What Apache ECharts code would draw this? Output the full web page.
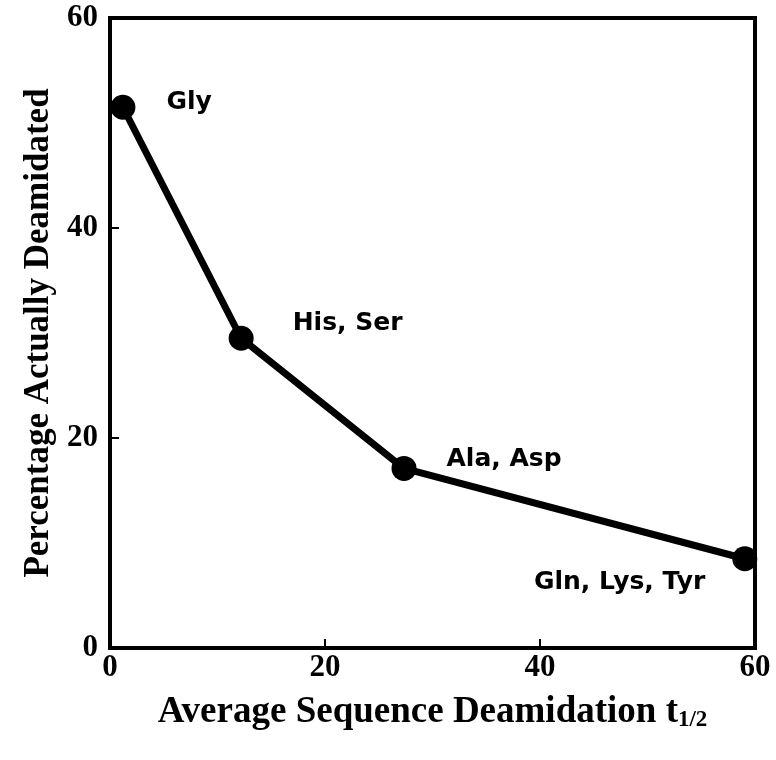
<!DOCTYPE html>
<html><head><meta charset="utf-8">
<script src="https://cdn.jsdelivr.net/npm/echarts@6/dist/echarts.min.js"></script>
<style>html,body{margin:0;padding:0;background:#fff}#c{width:776px;height:760px}</style>
</head><body><div id="c"></div>
<script>
const xValues = [1.2, 12.2, 27.35, 59.05];
const yValues = [51.5, 29.5, 17.1, 8.5];
const pointNames = ['Gly', 'His, Ser', 'Ala, Asp', 'Gln, Lys, Tyr'];
const xTicks = [0, 20, 40, 60];
const yTicks = [0, 20, 40, 60];

const labelCfg = [
  {position: 'right', distance: 5, offset: [26, -5]},
  {position: 'right', distance: 5, offset: [34, -15]},
  {position: 'right', distance: 5, offset: [25, -9]},
  {position: 'left', distance: 5, offset: [-22, 24]}
];
const data = xValues.map((x, i) => ({
  value: [x, yValues[i]],
  name: pointNames[i],
  label: Object.assign({show: true, formatter: pointNames[i]}, labelCfg[i])
}));

const chart = echarts.init(document.getElementById('c'));
const tickFont = {fontFamily: 'Liberation Serif', fontWeight: 'bold', fontSize: 31, color: '#000'};
chart.setOption({
  backgroundColor: '#fff',
  animation: false,
  grid: {left: 110, right: 21, top: 18, bottom: 112, show: true, borderColor: '#000', borderWidth: 4,
         containLabel: false, outerBoundsMode: 'none'},
  xAxis: {
    type: 'value', min: xTicks[0], max: xTicks[xTicks.length - 1], interval: 20,
    axisLine: {show: true, lineStyle: {color: '#000', width: 4}},
    axisTick: {show: true, inside: true, length: 9, lineStyle: {color: '#000', width: 2}},
    splitLine: {show: false},
    axisLabel: Object.assign({margin: 4}, tickFont),
    name: '{a|Average Sequence Deamidation t}{s|1/2}',
    nameLocation: 'middle', nameGap: 45,
    nameTextStyle: {
      rich: {
        a: {fontFamily: 'Liberation Serif', fontWeight: 'bold', fontSize: 37, color: '#000'},
        s: {fontFamily: 'Liberation Serif', fontWeight: 'bold', fontSize: 23, color: '#000', verticalAlign: 'bottom', padding: [16, 0, 0, 0]}
      }
    }
  },
  yAxis: {
    type: 'value', min: yTicks[0], max: yTicks[yTicks.length - 1], interval: 20,
    axisLine: {show: true, lineStyle: {color: '#000', width: 4}},
    axisTick: {show: true, inside: true, length: 9, lineStyle: {color: '#000', width: 2}},
    splitLine: {show: false},
    axisLabel: Object.assign({margin: 12}, tickFont),
    name: 'Percentage Actually Deamidated',
    nameLocation: 'middle', nameGap: 54,
    nameTextStyle: {fontFamily: 'Liberation Serif', fontWeight: 'bold', fontSize: 35, color: '#000'}
  },
  series: [{
    type: 'line',
    data: data,
    symbol: 'circle', symbolSize: 25,
    itemStyle: {color: '#000'},
    lineStyle: {color: '#000', width: 7},
    label: {fontFamily: 'DejaVu Sans', fontWeight: 'bold', fontSize: 25, color: '#000'}
  }]
});
</script></body></html>
